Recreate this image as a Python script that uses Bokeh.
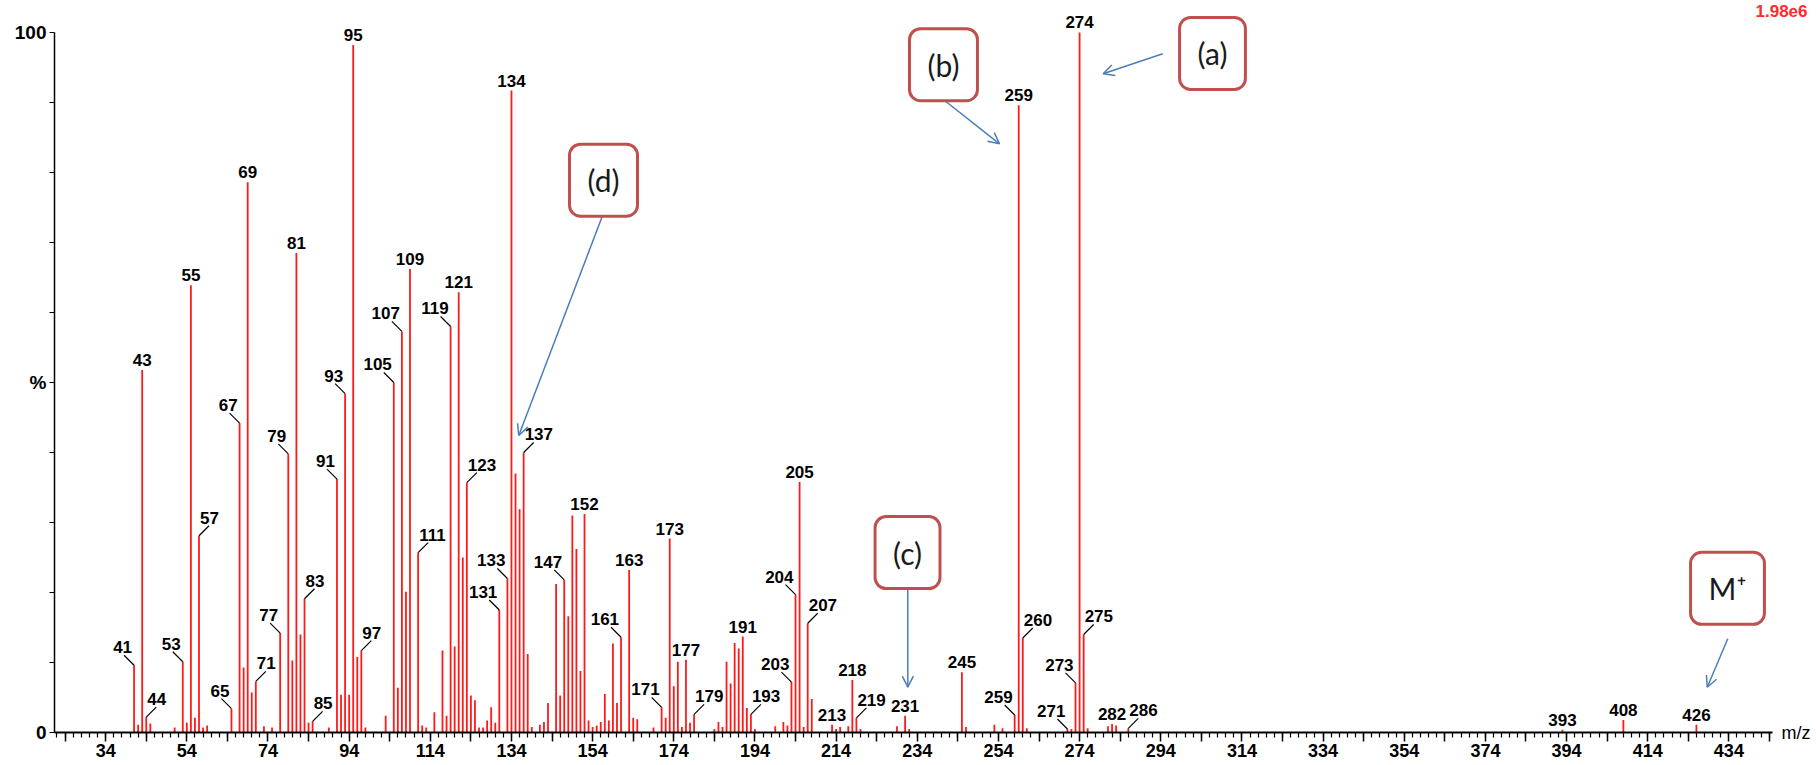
from bokeh.plotting import figure
from bokeh.models import FixedTicker, Label, Arrow, OpenHead, Range1d, LinearAxis
from bokeh.core.properties import value
from bokeh.embed import file_html
from bokeh.resources import INLINE

# ---------------- data (m/z, relative intensity %) ----------------
mz = [41, 42, 43, 44, 45, 51, 53, 54, 55, 56, 57, 58, 59, 65, 67, 68, 69, 70, 71, 73,
      75, 77, 79, 80, 81, 82, 83, 84, 85, 89, 91, 92, 93, 94, 95, 96, 97, 98, 103, 105,
      106, 107, 108, 109, 111, 112, 113, 115, 117, 118, 119, 120, 121, 122, 123, 124, 125,
      126, 127, 128, 129, 130, 131, 133, 134, 135, 136, 137, 138, 139, 141, 142, 143, 145,
      146, 147, 148, 149, 150, 151, 152, 153, 154, 155, 156, 157, 158, 159, 160, 161, 163,
      164, 165, 169, 171, 172, 173, 174, 175, 176, 177, 178, 179, 184, 185, 186, 187, 188,
      189, 190, 191, 192, 193, 194, 199, 201, 202, 203, 204, 205, 206, 207, 208, 213, 214,
      215, 217, 218, 219, 220, 229, 231, 232, 245, 246, 253, 255, 258, 259, 260, 261, 271,
      272, 273, 274, 275, 276, 281, 282, 283, 286, 393, 408, 426]
intensity = [9.6, 1.1, 51.8, 2.2, 1.3, 0.7, 10.1, 1.4, 63.9, 2.1, 28.1, 0.7, 1.0, 3.4, 44.2,
             9.3, 78.6, 5.7, 7.3, 0.9, 0.7, 14.2, 39.8, 10.3, 68.5, 14.0, 19.1, 1.4, 1.6, 0.7,
             36.2, 5.4, 48.4, 5.4, 98.2, 10.8, 11.7, 0.7, 2.4, 50.0, 6.4, 57.3, 20.1, 66.2,
             25.7, 1.0, 0.7, 2.9, 11.7, 2.4, 58.0, 12.3, 62.9, 25.0, 35.7, 5.3, 4.6, 0.7, 0.7,
             1.7, 3.6, 1.4, 17.5, 22.0, 91.7, 37.0, 31.9, 40.0, 11.2, 0.8, 1.1, 1.5, 4.2, 21.2,
             5.3, 21.8, 16.6, 31.0, 26.2, 8.8, 31.2, 1.7, 0.8, 1.0, 1.5, 5.5, 1.7, 12.7, 4.2,
             13.6, 23.2, 2.1, 1.9, 0.7, 3.6, 2.1, 27.7, 6.6, 10.1, 0.8, 10.4, 1.4, 2.6, 0.5,
             1.5, 0.8, 10.1, 7.0, 12.8, 12.0, 13.7, 3.5, 2.6, 0.5, 0.9, 1.5, 1.0, 7.2, 19.7,
             35.8, 0.8, 15.6, 4.8, 1.1, 0.5, 0.8, 0.9, 7.5, 2.1, 0.5, 0.9, 2.4, 0.5, 8.6, 0.8,
             1.1, 0.6, 2.5, 89.6, 13.5, 0.6, 0.5, 0.5, 7.1, 100.0, 14.0, 0.6, 0.9, 1.2, 1.0,
             0.6, 0.4, 1.8, 1.1]

# peak labels: placed straight above the peak
center_label_mz = [43, 55, 69, 81, 95, 109, 121, 134, 152, 163, 173, 177, 191, 205, 213,
                   218, 231, 245, 259, 274, 282, 393, 408, 426]
center_label_text = ["43", "55", "69", "81", "95", "109", "121", "134", "152", "163", "173",
                     "177", "191", "205", "213", "218", "231", "245", "259", "274", "282",
                     "393", "408", "426"]
# peak labels with a leader line going up-left
left_label_mz = [41, 53, 65, 67, 77, 79, 91, 93, 105, 107, 119, 131, 133, 147, 161, 171,
                 203, 204, 258, 271, 273]
left_label_text = ["41", "53", "65", "67", "77", "79", "91", "93", "105", "107", "119",
                   "131", "133", "147", "161", "171", "203", "204", "259", "271", "273"]
# peak labels with a leader line going up-right
right_label_mz = [44, 57, 71, 83, 85, 97, 111, 123, 137, 179, 193, 207, 219, 260, 275, 286]
right_label_text = ["44", "57", "71", "83", "85", "97", "111", "123", "137", "179", "193",
                    "207", "219", "260", "275", "286"]

# x ticks
x_label_ticks = list(range(34, 445, 20))
x_mid_ticks = list(range(24, 445, 10))
x_minor_ticks = list(range(22, 445, 2))
y_ticks = list(range(0, 101, 10))

# call-out boxes and arrows (m/z, %)
box_text = ["(a)", "(b)", "(c)", "(d)", "M\u207a"]
box_mz = [306.75, 240.46, 231.6, 156.68, 433.66]
box_pct = [97.0, 95.4, 25.7, 78.9, 20.6]
arrow_x0 = [294.5, 240.5, 231.67, 156.36, 433.73]
arrow_y0 = [96.96, 90.39, 20.57, 73.71, 13.39]
arrow_x1 = [279.8, 254.26, 231.67, 135.8, 428.66]
arrow_y1 = [94.1, 84.1, 6.47, 42.43, 6.47]

# ---------------- figure geometry ----------------
W, H = 1816, 765
B_LEFT, B_RIGHT, B_TOP, B_BOTTOM = 54, 44, 0, 33
X0, X1 = 21.39, 444.75
Y0, Y1 = 0.0, 104.57
frame_w = W - B_LEFT - B_RIGHT
frame_h = H - B_TOP - B_BOTTOM
xpx = frame_w / (X1 - X0)
ypx = frame_h / (Y1 - Y0)

p = figure(width=W, height=H, output_backend="svg", toolbar_location=None,
           x_range=Range1d(X0, X1), y_range=Range1d(Y0, Y1),
           min_border_left=B_LEFT, min_border_right=B_RIGHT,
           min_border_top=B_TOP, min_border_bottom=B_BOTTOM)
p.outline_line_color = None
p.xgrid.visible = False
p.ygrid.visible = False
p.background_fill_color = "white"
p.border_fill_color = "white"

RED = "#ff1a1a"
p.segment(x0=mz, y0=[0] * len(mz), x1=mz, y1=intensity, line_color=RED, line_width=1.8)

lookup = dict(zip(mz, intensity))
FONT = value("Liberation Sans")
FS = "17px"
FSTYLE = "bold"

cy = [lookup[m] for m in center_label_mz]
p.text(x=center_label_mz, y=cy, text=center_label_text, text_align="center",
       text_baseline="alphabetic", y_offset=-10, text_font=FONT, text_font_size=FS,
       text_font_style=FSTYLE, text_color="black")

dx = 10 / xpx
dy = 10 / ypx
ly = [lookup[m] for m in left_label_mz]
p.segment(x0=left_label_mz, y0=ly, x1=[m - dx for m in left_label_mz], y1=[v + dy for v in ly],
          line_color="black", line_width=1.2)
p.text(x=left_label_mz, y=ly, text=left_label_text, text_align="right",
       text_baseline="alphabetic", x_offset=-2, y_offset=-18, text_font=FONT,
       text_font_size=FS, text_font_style=FSTYLE, text_color="black")

ry = [lookup[m] for m in right_label_mz]
p.segment(x0=right_label_mz, y0=ry, x1=[m + dx for m in right_label_mz], y1=[v + dy for v in ry],
          line_color="black", line_width=1.2)
p.text(x=right_label_mz, y=ry, text=right_label_text, text_align="left",
       text_baseline="alphabetic", x_offset=1, y_offset=-18, text_font=FONT,
       text_font_size=FS, text_font_style=FSTYLE, text_color="black")

# ---------------- axes ----------------
xa = p.xaxis[0]
xa.ticker = FixedTicker(ticks=x_mid_ticks, minor_ticks=x_minor_ticks)
xa.major_label_overrides = {t: (str(t) if t in x_label_ticks else "") for t in x_mid_ticks}
xa.major_tick_out = 9
xa.major_tick_in = 0
xa.minor_tick_out = 5
xa.minor_tick_in = 0
xa.axis_line_width = 2
xa.major_tick_line_width = 1.5
xa.minor_tick_line_width = 1.2
xa.major_label_standoff = 2
xa.major_label_text_font = "Liberation Sans"
xa.major_label_text_font_style = "bold"
xa.major_label_text_font_size = "18px"
xa.major_label_text_color = "black"

ya = p.yaxis[0]
ya.ticker = FixedTicker(ticks=y_ticks, minor_ticks=[])
ya.major_label_overrides = {t: {0: "0", 50: "%", 100: "100"}.get(t, "") for t in y_ticks}
ya.bounds = (0, 100)
ya.major_tick_out = 5
ya.major_tick_in = 0
ya.axis_line_width = 1.5
ya.major_tick_line_width = 1.2
ya.major_label_standoff = 3
ya.major_label_text_font = "Liberation Sans"
ya.major_label_text_font_style = "bold"
ya.major_label_text_font_size = "19px"
ya.major_label_text_color = "black"

# "m/z" at the end of the x axis, drawn as the single label of a bare right-hand axis
mz_axis = LinearAxis(ticker=FixedTicker(ticks=[0], minor_ticks=[]),
                     major_label_overrides={0: "m/z"},
                     axis_line_color=None, major_tick_line_color=None,
                     minor_tick_line_color=None, major_tick_out=0, major_tick_in=0,
                     major_label_standoff=9, major_label_text_font="Liberation Sans",
                     major_label_text_font_size="18px", major_label_text_color="black")
p.add_layout(mz_axis, "right")

# base-peak intensity in the upper right corner, also as a bare right-hand axis label
bpi_axis = LinearAxis(ticker=FixedTicker(ticks=[103], minor_ticks=[]),
                      major_label_overrides={103: "1.98e6"},
                      axis_line_color=None, major_tick_line_color=None,
                      minor_tick_line_color=None, major_tick_out=0, major_tick_in=0,
                      major_label_standoff=-58, major_label_text_font="Liberation Sans",
                      major_label_text_font_style="bold",
                      major_label_text_font_size="17px", major_label_text_color="#ff2a2a")
p.add_layout(bpi_axis, "right")

# ---------------- call-outs ----------------
BLUE = "#4a7ebb"
for x0, y0, x1, y1 in zip(arrow_x0, arrow_y0, arrow_x1, arrow_y1):
    p.add_layout(Arrow(x_start=x0, y_start=y0, x_end=x1, y_end=y1,
                       line_color=BLUE, line_width=1.5,
                       end=OpenHead(size=11, line_color=BLUE, line_width=1.5)))

for t, bx, by in zip(box_text, box_mz, box_pct):
    p.add_layout(Label(x=bx, y=by, text=t, text_align="center", text_baseline="middle",
                       text_font="Lato", text_font_size="30px", text_color="#1a1a1a",
                       padding=18, border_radius=11, background_fill_color="white",
                       border_line_color="#c0504d", border_line_width=3))

open("out.html", "w").write(file_html(p, INLINE))
